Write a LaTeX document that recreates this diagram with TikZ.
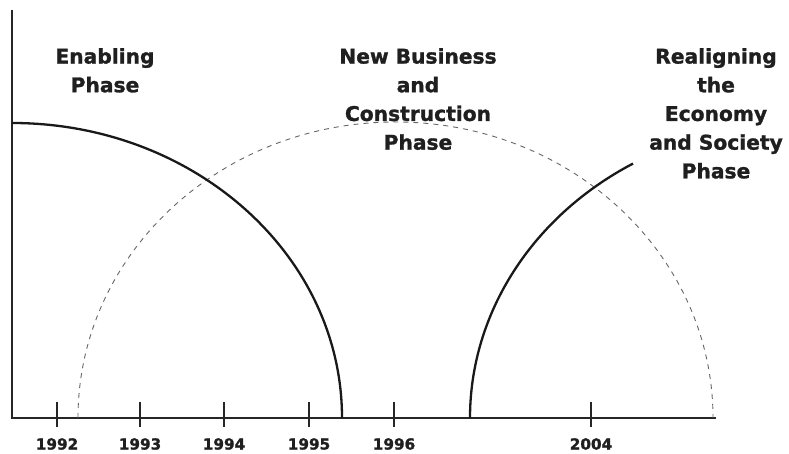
\documentclass[tikz,border=0pt]{standalone}
\usepackage{fontspec}
\setmainfont{DejaVu Sans}
\newfontfamily\heavyface{DejaVu Sans}[BoldFont={DejaVu Sans Bold}, BoldFeatures={FakeBold=1.3}]
\begin{document}
\begin{tikzpicture}[x=1bp,y=1bp,
  ink/.style={draw=black!90, line width=2.3bp},
  axisline/.style={draw=black!85, line width=1.9bp},
  tickmark/.style={draw=black!85, line width=1.7bp},
  guide/.style={draw=black!60, line width=0.9bp, dash pattern=on 5bp off 5bp},
  phase/.style={align=center, font=\heavyface\fontsize{20.3}{28.8}\selectfont\bfseries, text=black!88, inner sep=0pt},
  year/.style={font=\heavyface\fontsize{15.3}{18}\selectfont\bfseries, text=black!88, inner sep=0pt}]
\useasboundingbox (0,0) rectangle (789,454);

% axes
\coordinate (origin) at (12,36);
\coordinate (ytop) at (12,444);
\coordinate (xend) at (716,36);
\draw[axisline] (ytop) -- (origin) -- (xend);

% year ticks and labels
\foreach \name/\xx/\lab in {t92/57/1992, t93/140/1993, t94/224/1994, t95/309/1995, t96/394/1996, t04/591/2004}{
  \coordinate (\name) at (\xx,36);
  \draw[tickmark] ([yshift=-9bp]\name) -- ([yshift=16bp]\name);
  \node[year] (l\name) at ([yshift=-26bp]\name) {\lab};
}

% dashed envelope of the middle phase
\coordinate (dstart) at (78,36);
\draw[guide] (dstart) arc[start angle=180, end angle=0, x radius=317.5, y radius=296];

% enabling phase curve
\coordinate (estart) at (12,331);
\draw[ink] (estart) arc[start angle=90, end angle=0, x radius=330, y radius=295];

% realigning phase curve
\coordinate (rstart) at (470,36);
\draw[ink] (rstart) arc[start angle=180, end angle=120.4, x radius=330, y radius=295];

% phase titles
\node[phase, anchor=north] (enabling) at (105,406) {Enabling\\Phase};
\node[phase, anchor=north] (business) at (418,406) {New Business\\and\\Construction\\Phase};
\node[phase, anchor=north] (realign) at (716,406) {Realigning\\the\\Economy\\and Society\\Phase};
\end{tikzpicture}
\end{document}
